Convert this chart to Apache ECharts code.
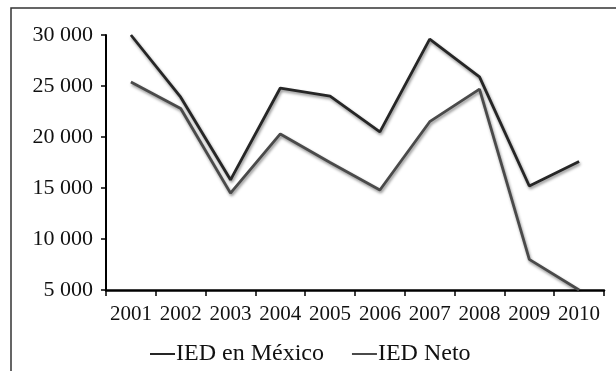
<!DOCTYPE html>
<html>
<head>
<meta charset="utf-8">
<script src="https://cdn.jsdelivr.net/npm/echarts@6/dist/echarts.min.js"></script>
<style>
  html, body { margin: 0; padding: 0; background: #ffffff; }
  #chart { width: 616px; height: 371px; }
</style>
</head>
<body>
<div id="chart"></div>
<script>
const years = ['2001', '2002', '2003', '2004', '2005', '2006', '2007', '2008', '2009', '2010']
const iedMexico = [30000, 23900, 15800, 24800, 24000, 20500, 29600, 25900, 15200, 17600]
const iedNeto = [25400, 22800, 14500, 20300, 17500, 14800, 21500, 24700, 8000, 5000]
const yTicks = [5000, 10000, 15000, 20000, 25000, 30000]

const font = 'Liberation Serif'

const chart = echarts.init(document.getElementById('chart'))

function lineSeries(name, data, color) {
  return {
    name: name,
    type: 'line',
    data: data,
    showSymbol: false,
    symbol: 'none',
    lineStyle: {
      color: color,
      width: 2.8,
      shadowColor: 'rgba(0,0,0,0.45)',
      shadowBlur: 3,
      shadowOffsetX: 1,
      shadowOffsetY: 2
    },
    itemStyle: { color: color }
  }
}

chart.setOption({
  backgroundColor: '#ffffff',
  animation: false,
  graphic: [
    {
      type: 'rect',
      shape: { x: 11, y: 8, width: 700, height: 500 },
      style: { fill: 'none', stroke: '#333333', lineWidth: 1.5 }
    }
  ],
  grid: {
    left: 106,
    right: 12,
    top: 35,
    bottom: 81
  },
  legend: {
    top: 342,
    left: 150,
    padding: 0,
    itemWidth: 25,
    itemHeight: 2,
    itemGap: 28,
    icon: 'rect',
    textStyle: {
      fontFamily: font,
      fontSize: 24,
      color: '#111111',
      padding: [0, 0, 0, -4]
    },
    data: ['IED en México', 'IED Neto']
  },
  xAxis: {
    type: 'category',
    data: years,
    boundaryGap: true,
    axisLine: { lineStyle: { color: '#000000', width: 2.5 } },
    axisTick: { show: true, length: 6, lineStyle: { color: '#000000', width: 1.5 } },
    axisLabel: {
      interval: 0,
      hideOverlap: false,
      fontFamily: font,
      fontSize: 21,
      color: '#111111',
      margin: 14
    },
    splitLine: { show: false }
  },
  yAxis: {
    type: 'value',
    min: yTicks[0],
    max: yTicks[yTicks.length - 1],
    interval: 5000,
    axisLine: { show: true, lineStyle: { color: '#000000', width: 2 } },
    axisTick: { show: true, length: 5, lineStyle: { color: '#000000', width: 1.5 } },
    axisLabel: {
      fontFamily: font,
      fontSize: 22,
      color: '#111111',
      margin: 13,
      formatter: function (v) {
        return String(v).replace(/\B(?=(\d{3})+(?!\d))/g, ' ')
      }
    },
    splitLine: { show: false }
  },
  series: [
    lineSeries('IED en México', iedMexico, '#262626'),
    lineSeries('IED Neto', iedNeto, '#4a4a4a')
  ]
})
</script>
</body>
</html>
